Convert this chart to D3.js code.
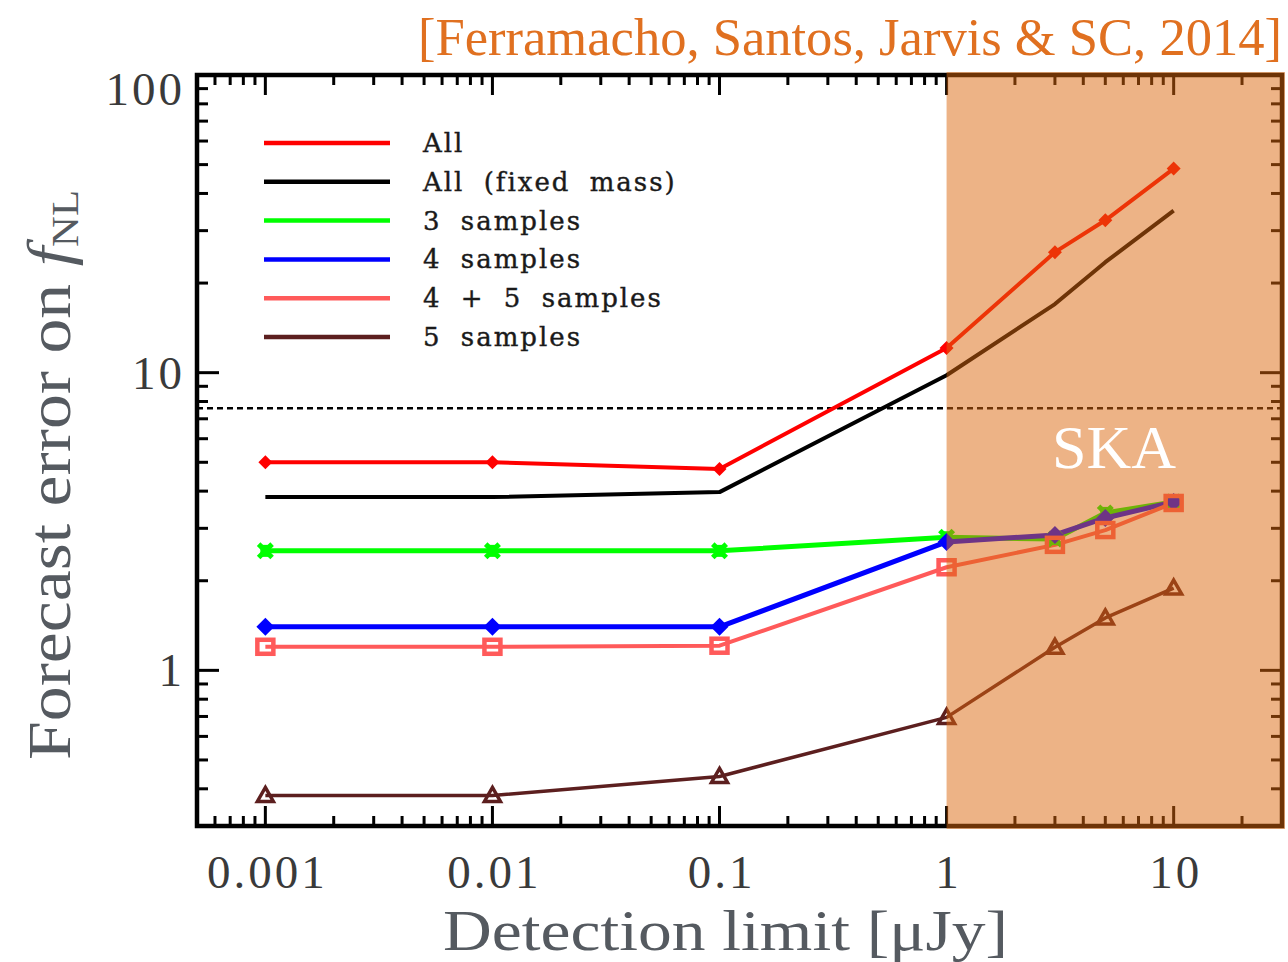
<!DOCTYPE html>
<html>
  <head>
    <meta charset="UTF-8">
    <title>Forecast error on fNL</title>
    <script src="https://cdn.jsdelivr.net/npm/d3@7"></script>
    <style>
      body { margin: 0; background: #fff; }
      svg  { display: block; }
    </style>
  </head>
  <body>
    <script>
      // detection limits (uJy)
      var limits = [0.001, 0.01, 0.1, 1, 3, 5, 10];

      // forecast errors, one array per series
      var allErr     = [5.0, 5.0, 4.75, 12.1, 25.4, 32.5, 48.5];
      var fixedMass  = [3.82, 3.82, 3.97, 9.8, 17.0, 23.5, 35.0];
      var three      = [2.52, 2.52, 2.52, 2.80, 2.76, 3.38, 3.68];
      var four       = [1.40, 1.40, 1.40, 2.70, 2.85, 3.25, 3.68];
      var fourFive   = [1.20, 1.20, 1.21, 2.22, 2.64, 2.96, 3.65];
      var five       = [0.38, 0.38, 0.44, 0.695, 1.195, 1.50, 1.89];

      var seriesNames = ["All", "All (fixed mass)", "3 samples", "4 samples", "4 + 5 samples", "5 samples"];
      var reference = 7.6;   // dashed line
      var skaFrom = 1;       // shaded SKA region starts here

      var xTickLabels = ["0.001", "0.01", "0.1", "1", "10"];
      var yTickLabels = ["1", "10", "100"];

      var series = [
        { name: seriesNames[0], values: allErr,    color: "#ff0000", width: 4,   marker: "diamondSmall" },
        { name: seriesNames[1], values: fixedMass, color: "#000000", width: 4,   marker: null },
        { name: seriesNames[2], values: three,     color: "#00ff00", width: 5,   marker: "asterisk" },
        { name: seriesNames[3], values: four,      color: "#0000ff", width: 5,   marker: "diamond" },
        { name: seriesNames[4], values: fourFive,  color: "#ff5a5a", width: 4,   marker: "square" },
        { name: seriesNames[5], values: five,      color: "#5c1f1f", width: 3.5, marker: "triangle" }
      ];

      var W = 1288, H = 962;
      var pLeft = 197, pRight = 1282, pTop = 75, pBottom = 826;

      var svg = d3.select("body").append("svg")
        .attr("width", W)
        .attr("height", H);

      var x = d3.scaleLog().domain([0.0005, 30]).range([pLeft, pRight]);
      var y = d3.scaleLog().domain([0.3, 100]).range([pBottom, pTop]);

      var plot = svg.append("g");

      // dashed reference line
      plot.append("line")
        .attr("x1", pLeft).attr("x2", pRight)
        .attr("y1", y(reference)).attr("y2", y(reference))
        .style("stroke", "#000")
        .style("stroke-width", 2.5)
        .style("stroke-dasharray", "6,4");

      // series lines
      var line = d3.line()
        .x(function (d, i) { return x(limits[i]); })
        .y(function (d) { return y(d); });

      series.forEach(function (s) {
        plot.append("path")
          .attr("d", line(s.values))
          .style("fill", "none")
          .style("stroke", s.color)
          .style("stroke-width", s.width)
          .style("stroke-linejoin", "round");
      });

      // markers
      function marker(g, type, color, cx, cy) {
        if (!type) return;
        if (type === "diamond" || type === "diamondSmall") {
          var r = type === "diamond" ? 9 : 7;
          g.append("path")
            .attr("d", "M" + cx + "," + (cy - r) + "L" + (cx + r) + "," + cy + "L" + cx + "," + (cy + r) + "L" + (cx - r) + "," + cy + "Z")
            .style("fill", color);
        } else if (type === "asterisk") {
          g.append("path")
            .attr("d", d3.symbol(d3.symbolTimes, 120)())
            .attr("transform", "translate(" + cx + "," + cy + ")")
            .style("fill", "none").style("stroke", color).style("stroke-width", 5);
          g.append("rect")
            .attr("x", cx - 5).attr("y", cy - 6).attr("width", 10).attr("height", 12)
            .style("fill", color);
        } else if (type === "square") {
          g.append("rect")
            .attr("x", cx - 8).attr("y", cy - 7).attr("width", 16).attr("height", 14)
            .style("fill", "none").style("stroke", color).style("stroke-width", 4.5);
        } else if (type === "triangle") {
          g.append("path")
            .attr("d", "M" + cx + "," + (cy - 8) + "L" + (cx + 8) + "," + (cy + 6) + "L" + (cx - 8) + "," + (cy + 6) + "Z")
            .style("fill", "none").style("stroke", color).style("stroke-width", 3.5);
        }
      }

      series.forEach(function (s) {
        s.values.forEach(function (v, i) {
          marker(plot, s.marker, s.color, x(limits[i]), y(v));
        });
      });

      // legend
      var legend = svg.append("g");
      series.forEach(function (s, i) {
        var ly = 143 + i * 38.8;
        legend.append("line")
          .attr("x1", 264).attr("x2", 390)
          .attr("y1", ly).attr("y2", ly)
          .style("stroke", s.color)
          .style("stroke-width", 4.5);
        legend.append("text")
          .attr("x", 423).attr("y", ly + 9)
          .text(s.name)
          .style("font-family", "DejaVu Serif")
          .style("font-size", "26px")
          .style("letter-spacing", "2px")
          .style("word-spacing", "9px")
          .style("fill", "#1a1a1a")
          .style("stroke", "#1a1a1a")
          .style("stroke-width", 0.4);
      });

      // frame and ticks (all four sides, pointing inward)
      var axes = svg.append("g");
      axes.append("rect")
        .attr("x", pLeft).attr("y", pTop)
        .attr("width", pRight - pLeft).attr("height", pBottom - pTop)
        .style("fill", "none")
        .style("stroke", "#000")
        .style("stroke-width", 4.5);

      var xTicks = x.ticks(30);
      var yTicks = y.ticks(30);
      function isMajor(v) {
        var l = Math.log10(v);
        return Math.abs(l - Math.round(l)) < 1e-6;
      }
      xTicks.forEach(function (t) {
        var len = isMajor(t) ? 20 : 10;
        var px = x(t);
        axes.append("line").attr("x1", px).attr("x2", px).attr("y1", pBottom).attr("y2", pBottom - len)
          .style("stroke", "#000").style("stroke-width", 3);
        axes.append("line").attr("x1", px).attr("x2", px).attr("y1", pTop).attr("y2", pTop + len)
          .style("stroke", "#000").style("stroke-width", 3);
      });
      yTicks.forEach(function (t) {
        var len = isMajor(t) ? 22 : 11;
        var py = y(t);
        axes.append("line").attr("x1", pLeft).attr("x2", pLeft + len).attr("y1", py).attr("y2", py)
          .style("stroke", "#000").style("stroke-width", 3);
        axes.append("line").attr("x1", pRight).attr("x2", pRight - len).attr("y1", py).attr("y2", py)
          .style("stroke", "#000").style("stroke-width", 3);
      });

      // shaded SKA region, laid over the plot
      svg.append("rect")
        .attr("x", x(skaFrom))
        .attr("y", pTop - 3)
        .attr("width", pRight + 3 - x(skaFrom))
        .attr("height", pBottom - pTop + 6)
        .style("fill", "#db670d")
        .style("opacity", 0.5);

      svg.append("text")
        .attr("x", 1114).attr("y", 468)
        .attr("text-anchor", "middle")
        .text("SKA")
        .style("font-family", "Liberation Serif")
        .style("font-size", "62px")
        .style("fill", "#fff");

      // tick labels
      xTickLabels.forEach(function (lab) {
        svg.append("text")
          .attr("x", x(+lab) + 2).attr("y", 888)
          .attr("text-anchor", "middle")
          .text(lab)
          .style("font-family", "Liberation Serif")
          .style("font-size", "47px")
          .style("letter-spacing", "3px")
          .style("fill", "#3a3a3a");
      });
      yTickLabels.forEach(function (lab) {
        // the top label is pushed down to stay inside the page
        var shift = +lab === 100 ? 30 : 16;
        svg.append("text")
          .attr("x", 185).attr("y", y(+lab) + shift)
          .attr("text-anchor", "end")
          .text(lab)
          .style("font-family", "Liberation Serif")
          .style("font-size", "47px")
          .style("letter-spacing", "3px")
          .style("fill", "#3a3a3a");
      });

      // axis titles
      svg.append("text")
        .attr("x", 443).attr("y", 950)
        .attr("textLength", 565)
        .attr("lengthAdjust", "spacingAndGlyphs")
        .text("Detection limit [μJy]")
        .style("font-family", "Liberation Serif")
        .style("font-size", "58px")
        .style("fill", "#555a60");

      var yt = svg.append("text")
        .attr("transform", "translate(70,760) rotate(-90)")
        .attr("textLength", 570)
        .attr("lengthAdjust", "spacingAndGlyphs")
        .style("font-family", "Liberation Serif")
        .style("font-size", "62px")
        .style("fill", "#555a60");
      yt.append("tspan").text("Forecast error on ");
      yt.append("tspan").text("f").style("font-style", "italic");
      yt.append("tspan").text("NL").attr("dy", 8).style("font-size", "38px");

      // citation
      svg.append("text")
        .attr("x", 418).attr("y", 55)
        .attr("textLength", 864)
        .attr("lengthAdjust", "spacingAndGlyphs")
        .text("[Ferramacho, Santos, Jarvis & SC, 2014]")
        .style("font-family", "Liberation Serif")
        .style("font-size", "52px")
        .style("fill", "#e07020");
    </script>
  </body>
</html>
